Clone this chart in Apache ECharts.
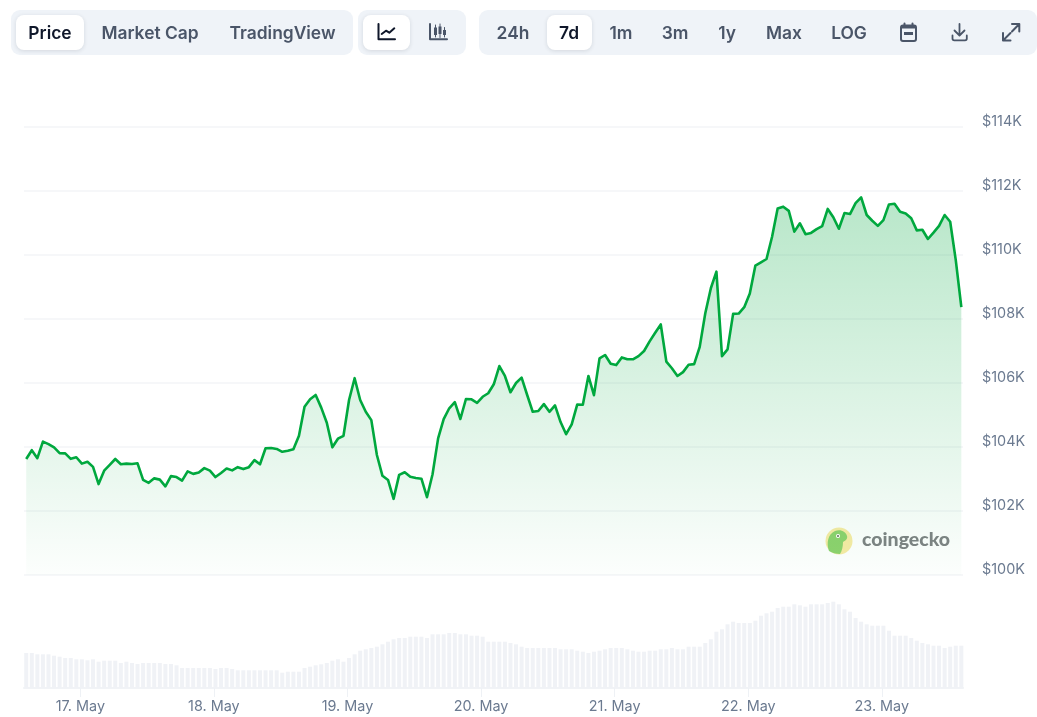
<!DOCTYPE html>
<html>
<head>
<meta charset="utf-8">
<title>Bitcoin price, 7 days</title>
<script src="https://cdn.jsdelivr.net/npm/echarts@6/dist/echarts.min.js"></script>
<style>
  html, body { margin: 0; padding: 0; background: #fff; }
  #chart { width: 1037px; height: 717px; }
</style>
</head>
<body>
<div id="chart"></div>
<script>
// Hourly BTC price in USD, oldest first
const priceUsd = [
  103625,103900,103650,104170,104090,103990,103810,103800,103630,103680,
  103480,103540,103380,102840,103260,103440,103625,103460,103480,103470,
  103490,102970,102880,103020,102980,102770,103090,103060,102950,103240,
  103160,103200,103340,103260,103060,103190,103330,103270,103370,103310,
  103370,103590,103460,103960,103970,103940,103850,103880,103930,104350,
  105260,105490,105625,105230,104760,103990,104260,104350,105470,106150,
  105470,105100,104840,103750,103100,102970,102380,103130,103210,103070,
  103030,103010,102430,103150,104270,104870,105210,105400,104875,105500,
  105490,105380,105570,105680,105960,106530,106220,105710,106000,106170,
  105625,105100,105125,105340,105100,105300,104780,104400,104710,105330,
  105320,106220,105620,106770,106875,106600,106560,106800,106740,106740,
  106840,107000,107300,107570,107830,106670,106460,106220,106340,106570,
  106590,107130,108180,108960,109480,106840,107050,108160,108170,108370,
  108800,109670,109770,109875,110570,111450,111510,111380,110730,110990,
  110650,110690,110810,110900,111440,111180,110820,111310,111280,111620,
  111800,111250,111070,110910,111090,111580,111600,111350,111300,111150,
  110770,110790,110500,110700,110910,111250,111040,109840,108370
];

// Rolling 24h traded volume in billions of USD
const volumeBn = [
  35,35,33.7,33.7,33.7,32.3,31.3,30,30,28.7,
  28.7,27.7,28.7,26.3,27.3,27.3,27.3,25,26.3,25,
  24,25,25,25,25,24,24,22.7,20,20,
  20,20,20,20,19,20,20,19,17.7,17.7,
  17.7,17.7,17.7,17.7,17.7,17.7,15.3,16.3,16.3,16.3,
  20,21.3,22.7,23.7,25,27.3,28.7,26.3,30,33.7,
  37.3,38.7,40,41.3,43.7,46.3,48.7,50,50,51.3,
  51.3,51.3,50,53.7,53.7,53.7,55,55,53.7,53.7,
  52.3,52.3,51.3,46.3,46.3,46.3,46.3,45,43.7,41.3,
  40,40,40,40,40,40,38.7,38.7,38.7,37.3,
  36.3,35,36.3,37.3,38.7,40,40,40,38.7,37.3,
  36.3,36.3,37.3,37.3,38.7,38.7,40,38.7,38.7,41.3,
  41.3,41.3,45,48.7,56.3,58.7,63.7,66.3,65,65,
  65,67.3,72.3,74.7,76.3,80,81.3,81.3,83.7,82.7,
  81.3,83.7,83.7,83.7,85,86.3,83.7,78.7,76.3,70,
  66.3,63.7,62.3,62.3,62.3,57.3,52.3,52.3,52.3,50,
  47.3,45,43.7,42.3,42.3,40,41.3,42.3,42.3
];

const dayLabels = ['17. May','18. May','19. May','20. May','21. May','22. May','23. May'];
const dayStamps = [17,18,19,20,21,22,23].map(d => Date.UTC(2025, 4, d));
const rangeTabs = ['24h','7d','1m','3m','1y','Max','LOG'];
const viewTabs = ['Price','Market Cap','TradingView'];

const HOUR = 3600000;
const firstSample = Date.UTC(2025, 4, 16, 14, 17);
const axisMin = Date.UTC(2025, 4, 16, 13, 53);
const axisMax = Date.UTC(2025, 4, 23, 14, 35);
const stamps = priceUsd.map((_, i) => firstSample + i * HOUR);

const UI_FONT = 'Inter, "Noto Sans", sans-serif';
const PANEL = '#eff3f8';
const DARK = '#0f172a';
const SLATE = '#4a5568';

function panel(x, y, width, height) {
  return { type: 'rect', shape: { x, y, width, height, r: 9 }, style: { fill: PANEL }, z: 1 };
}
function activeTab(x, y, width, height) {
  return {
    type: 'rect', shape: { x, y, width, height, r: 8 },
    style: { fill: '#fff', shadowBlur: 4, shadowColor: 'rgba(15,23,42,0.12)', shadowOffsetY: 1 }, z: 2
  };
}
function label(text, x, active) {
  return {
    type: 'text', x, y: 33.5, z: 3,
    style: {
      text, fill: active ? DARK : SLATE, font: '600 17.4px ' + UI_FONT,
      align: 'center', verticalAlign: 'middle'
    }
  };
}

// The graphic component only knows registered shape names, so each icon path gets one
let iconCount = 0;
function iconShape(d) {
  const name = 'icon' + (iconCount++);
  echarts.graphic.registerShape(name, echarts.graphic.extendPath(d, {}));
  return name;
}
function stroke(d, color, width) {
  return {
    type: iconShape(d), z: 3,
    style: { fill: 'none', stroke: color, lineWidth: width || 2, lineCap: 'round', lineJoin: 'round' }
  };
}
function solid(d, color) {
  return { type: iconShape(d), z: 3, style: { fill: color, stroke: 'none' } };
}

const toolbar = [
  panel(11, 10, 342, 45),
  activeTab(16, 15, 68, 35),
  label(viewTabs[0], 50, true),
  label(viewTabs[1], 150, false),
  label(viewTabs[2], 282.5, false),

  panel(358, 10, 108, 45),
  activeTab(363, 15, 47, 35),
  stroke('M378.5 24 V39.3 H395', DARK),
  stroke('M381.7 34 L386 30.7 L389.3 32.7 L394.3 28.3', DARK),
  stroke('M430 24 V39.3 H447', SLATE),
  solid('M434 27.5 h3 v7.5 h-3 z M438.5 26.5 h3 v7.5 h-3 z M443 30 h3 v5 h-3 z', SLATE),
  stroke('M435.5 25 V37 M440 24 V37.5 M444.5 27.5 V37', SLATE, 1),

  panel(479, 10, 558, 45),
  activeTab(547, 15, 45, 35),
  label(rangeTabs[0], 513, false),
  label(rangeTabs[1], 569, true),
  label(rangeTabs[2], 621, false),
  label(rangeTabs[3], 675, false),
  label(rangeTabs[4], 727, false),
  label(rangeTabs[5], 784, false),
  label(rangeTabs[6], 849, false),

  // calendar
  { type: 'rect', z: 3, shape: { x: 901, y: 25.5, width: 15, height: 15.5, r: 2 }, style: { fill: 'none', stroke: SLATE, lineWidth: 2 } },
  { type: 'rect', z: 3, shape: { x: 901, y: 25.5, width: 15, height: 3, r: 1 }, style: { fill: SLATE } },
  { type: 'rect', z: 3, shape: { x: 904, y: 32, width: 9, height: 3 }, style: { fill: SLATE } },
  stroke('M904.5 23.5 V26 M912.5 23.5 V26', SLATE, 2),
  // download
  stroke('M959.5 24 V35 M954.5 30.5 L959.5 35.5 L964.5 30.5', SLATE, 1.8),
  stroke('M952.5 35.5 V38.5 Q952.5 40.3 954.3 40.3 H965 Q966.8 40.3 966.8 38.5 V35.5', SLATE, 1.8),
  // expand
  stroke('M1012 31.5 L1019.3 24 M1012 24 H1019.3 V31.5 M1010.5 33 L1003 40.5 M1003 33 V40.5 H1010.5', SLATE, 2),
];

// Gecko badge and wordmark over the lower right of the plot
const watermark = [
  { type: 'circle', z: 3, shape: { cx: 839, cy: 541, r: 13.5 }, style: { fill: '#f8eba5' } },
  solid('M829 551 C826 543 828 534 835 531 C841 529 846 532 847 536 C848 539 845 541 843 542 C843 546 842 551 840 554 C836 554 832 553 829 551 Z', '#8ed26e'),
  { type: 'circle', z: 4, shape: { cx: 838, cy: 536, r: 2 }, style: { fill: '#fff' } },
  { type: 'circle', z: 4, shape: { cx: 838, cy: 536, r: 1 }, style: { fill: '#5b6b52' } },
  {
    type: 'text', x: 862, y: 540, z: 3,
    style: { text: 'coingecko', fill: '#7f8284', font: '900 19.5px Lato, "Open Sans", sans-serif', align: 'left', verticalAlign: 'middle' }
  }
];

const chart = echarts.init(document.getElementById('chart'), null, { renderer: 'canvas' });

chart.setOption({
  animation: false,
  backgroundColor: '#fff',
  grid: [
    { left: 24, right: 74, top: 127, height: 448 },
    { left: 24, right: 74, top: 588, height: 100 }
  ],
  xAxis: [
    { type: 'value', gridIndex: 0, min: axisMin, max: axisMax, show: false },
    {
      type: 'value', gridIndex: 1, min: axisMin, max: axisMax,
      splitLine: { show: false },
      axisLine: { show: true, lineStyle: { color: '#f1f3f6', width: 2 } },
      axisTick: { show: true, length: 9, lineStyle: { color: '#eef1f5' }, customValues: dayStamps },
      axisLabel: {
        color: '#6b7a90', fontFamily: UI_FONT, fontSize: 14.4, margin: 12, hideOverlap: false,
        customValues: dayStamps,
        formatter: v => dayLabels[dayStamps.indexOf(v)]
      }
    }
  ],
  yAxis: [
    {
      type: 'value', gridIndex: 0, position: 'right', min: 100000, max: 114000, interval: 2000,
      axisLine: { show: false }, axisTick: { show: false },
      splitLine: { lineStyle: { color: '#f6f7f9', width: 2 } },
      axisLabel: {
        color: '#6b7a90', fontFamily: UI_FONT, fontSize: 14.4, margin: 19,
        verticalAlign: 'bottom', lineHeight: 10,
        formatter: v => '$' + v / 1000 + 'K'
      }
    },
    { type: 'value', gridIndex: 1, min: 0, max: 100, show: false }
  ],
  series: [
    {
      name: 'Volume', type: 'bar', xAxisIndex: 1, yAxisIndex: 1, barWidth: 4, silent: true,
      itemStyle: { color: '#f0f2f6' },
      data: stamps.map((t, i) => [t, volumeBn[i]])
    },
    {
      name: 'Price', type: 'line', xAxisIndex: 0, yAxisIndex: 0, symbol: 'none', smooth: false, silent: true,
      lineStyle: { color: '#00a83e', width: 2.6, join: 'round' },
      areaStyle: {
        origin: 'start',
        opacity: 1,
        color: new echarts.graphic.LinearGradient(0, 0, 0, 1, [
          { offset: 0, color: 'rgba(0,168,62,0.28)' },
          { offset: 1, color: 'rgba(0,168,62,0.01)' }
        ])
      },
      data: stamps.map((t, i) => [t, priceUsd[i]])
    }
  ],
  graphic: { elements: toolbar.concat(watermark) }
});
</script>
</body>
</html>
